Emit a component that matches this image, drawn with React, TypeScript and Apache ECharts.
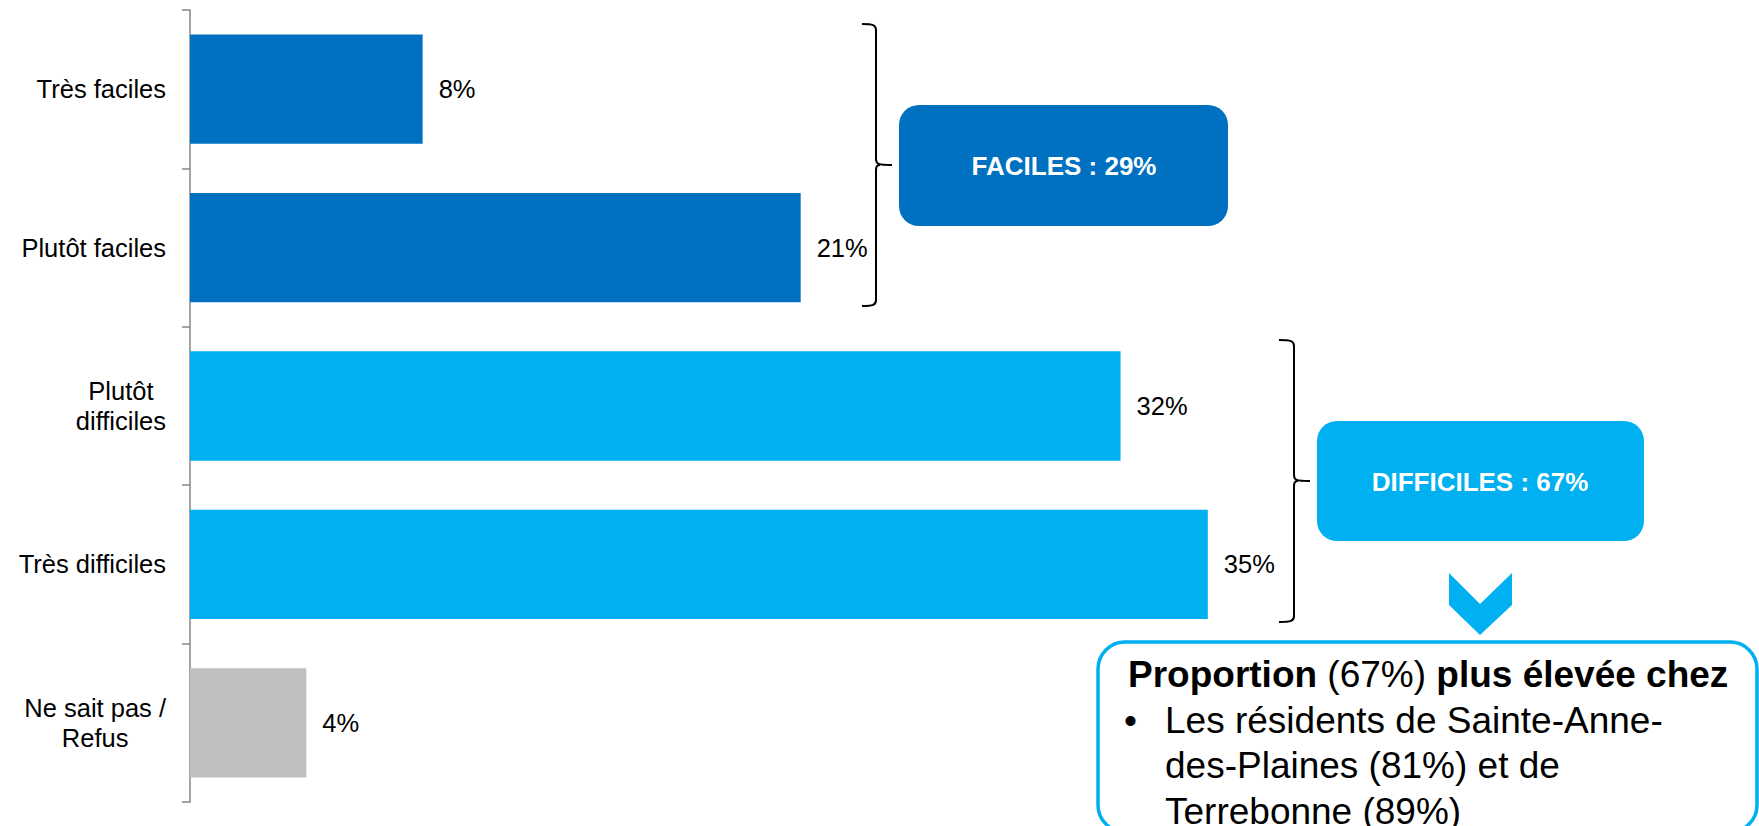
import React, { useEffect, useRef } from "react";
import * as echarts from "echarts";

const categories = [
  "Très faciles",
  "Plutôt faciles",
  "Plutôt\ndifficiles",
  "Très difficiles",
  "Ne sait pas /\nRefus",
];
const values = [8, 21, 32, 35, 4];
const barColors = ["#0070C0", "#0070C0", "#00B0F0", "#00B0F0", "#BFBFBF"];

const groupLabels = ["FACILES : 29%", "DIFFICILES : 67%"];
const noteTitle = ["Proportion", "(67%)", "plus élevée chez"];
const noteLines = [
  "Les résidents de Sainte-Anne-",
  "des-Plaines (81%) et de",
  "Terrebonne (89%)",
];

const FONT = "'Liberation Sans', Arial, sans-serif";

function bracePath(x0: number, xv: number, xt: number, y0: number, ym: number, y1: number) {
  return (
    `M${x0} ${y0} C${xv - 3} ${y0} ${xv} ${y0 + 1} ${xv} ${y0 + 6} ` +
    `L${xv} ${ym - 6} C${xv} ${ym - 1} ${xv + 2} ${ym} ${xt} ${ym} ` +
    `M${xv + 4} ${ym} C${xv + 1} ${ym} ${xv} ${ym + 1} ${xv} ${ym + 6} ` +
    `L${xv} ${y1 - 6} C${xv} ${y1 - 1} ${xv - 3} ${y1} ${x0} ${y1}`
  );
}

echarts.graphic.registerShape("braceA", echarts.graphic.extendPath(bracePath(862, 876, 892, 24, 165, 306), {}));
echarts.graphic.registerShape("braceB", echarts.graphic.extendPath(bracePath(1279, 1294, 1310, 340, 481, 622), {}));

export default function App() {
  const ref = useRef<HTMLDivElement>(null);

  useEffect(() => {
    if (!ref.current) return;
    const chart = echarts.init(ref.current, null, { renderer: "svg" });
    const option: any = {
      animation: false,
      backgroundColor: "#ffffff",
      grid: { left: 190, right: 115, top: 10, bottom: 24, containLabel: false },
      xAxis: { type: "value", min: 0, max: 50, show: false },
      yAxis: {
        type: "category",
        data: categories,
        inverse: true,
        axisLine: { show: true, lineStyle: { color: "#868686", width: 1.5 } },
        axisTick: { show: true, length: 8, lineStyle: { color: "#868686", width: 1.5 } },
        axisLabel: {
          align: "right",
          margin: 24,
          formatter: (v: string) => v.split("\n").map((s) => `{c|${s}}`).join("\n"),
          rich: {
            c: { align: "center", fontSize: 25.5, lineHeight: 30, color: "#000", fontFamily: FONT },
          },
        },
        splitLine: { show: false },
      },
      series: [
        {
          type: "bar",
          barCategoryGap: "31%",
          data: values.map((v, i) => ({ value: v, itemStyle: { color: barColors[i] } })),
          label: {
            show: true,
            position: "right",
            distance: 16,
            formatter: "{c}%",
            fontSize: 25.5,
            color: "#000",
            fontFamily: FONT,
          },
        },
      ],
      graphic: [
        { type: "braceA", x: 0, y: 0, style: { fill: "none", stroke: "#000", lineWidth: 2 } },
        { type: "braceB", x: 0, y: 0, style: { fill: "none", stroke: "#000", lineWidth: 2 } },
        { type: "rect", shape: { x: 899, y: 105, width: 329, height: 121, r: 20 }, style: { fill: "#0070C0" } },
        {
          type: "text",
          x: 1064,
          y: 166,
          style: {
            text: groupLabels[0],
            fill: "#fff",
            font: `bold 26px ${FONT}`,
            textAlign: "center",
            textVerticalAlign: "middle",
          },
        },
        { type: "rect", shape: { x: 1317, y: 421, width: 327, height: 120, r: 20 }, style: { fill: "#00B0F0" } },
        {
          type: "text",
          x: 1480,
          y: 482,
          style: {
            text: groupLabels[1],
            fill: "#fff",
            font: `bold 26px ${FONT}`,
            textAlign: "center",
            textVerticalAlign: "middle",
          },
        },
        {
          type: "polygon",
          shape: {
            points: [
              [1449, 573],
              [1480, 604],
              [1512, 573],
              [1512, 605],
              [1480, 635],
              [1449, 605],
            ],
          },
          style: { fill: "#00B0F0" },
        },
        {
          type: "rect",
          shape: { x: 1098, y: 642, width: 659, height: 190, r: 27 },
          style: { fill: "#fff", stroke: "#00B0F0", lineWidth: 3.5 },
        },
        {
          type: "text",
          x: 1128,
          y: 674,
          style: {
            text: `{b|${noteTitle[0]}} {r|${noteTitle[1]}} {b|${noteTitle[2]}}`,
            font: `37px ${FONT}`,
            fill: "#000",
            textVerticalAlign: "middle",
            rich: {
              b: { fontWeight: "bold", fontSize: 37, fontFamily: FONT, fill: "#000" },
              r: { fontWeight: "normal", fontSize: 37, fontFamily: FONT, fill: "#000" },
            },
          },
        },
        {
          type: "text",
          x: 1124,
          y: 720,
          style: { text: "•", font: `37px ${FONT}`, fill: "#000", textVerticalAlign: "middle" },
        },
        ...noteLines.map((t, i) => ({
          type: "text",
          x: 1165,
          y: 720 + i * 45.5,
          style: { text: t, font: `37px ${FONT}`, fill: "#000", textVerticalAlign: "middle" },
        })),
      ],
    };
    chart.setOption(option);
    return () => chart.dispose();
  }, []);

  return (
    <div
      ref={ref}
      style={{ position: "absolute", left: 0, top: 0, width: 1759, height: 826 }}
    />
  );
}
